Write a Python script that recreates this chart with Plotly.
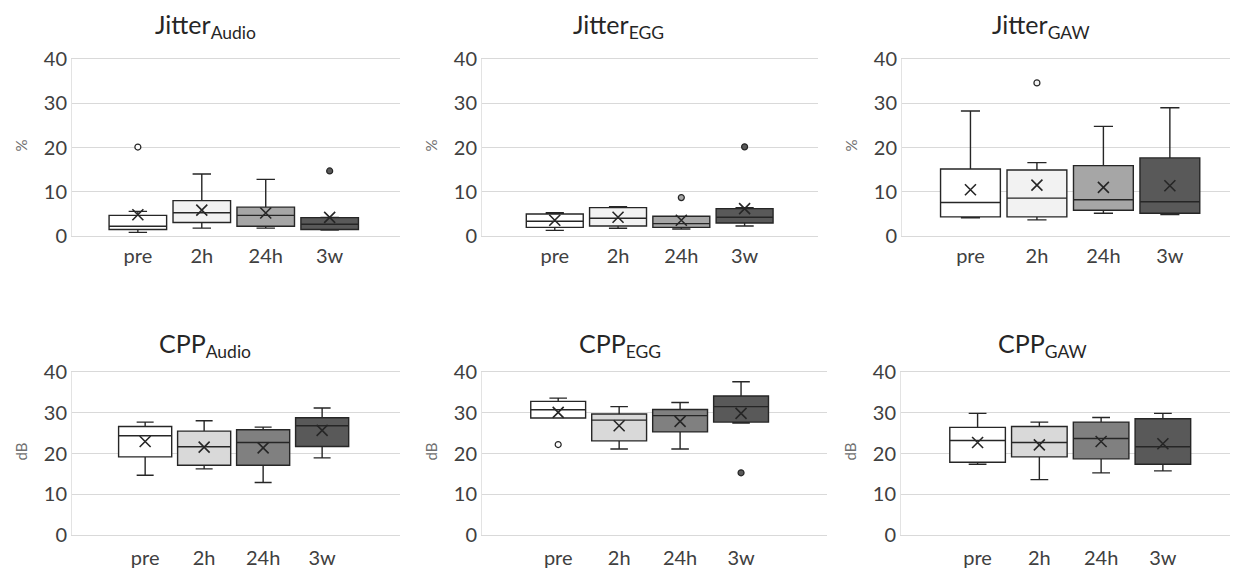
import plotly.graph_objects as go

# The page places the plot 8px from the top-left corner (body margin),
# so the figure is sized to fit the 1238x568 window from that offset.
OX, OY = 8, 8
W, H = 1238 - OX, 568 - OY
categories = ["pre", "2h", "24h", "3w"]

# ---- Jitter Audio (%) ----
ja_low = [0.81, 1.78, 1.78, 1.33]
ja_q1 = [1.48, 3.04, 2.22, 1.48]
ja_med = [2.22, 5.26, 4.67, 2.67]
ja_q3 = [4.67, 8.0, 6.52, 4.15]
ja_high = [5.56, 14.0, 12.8, 4.2]
ja_mean = [4.8, 5.85, 5.19, 4.2]
ja_out = [[20.1], [], [], [14.7]]

# ---- Jitter EGG (%) ----
je_low = [1.28, 1.74, 1.58, 2.26]
je_q1 = [1.96, 2.26, 1.96, 2.94]
je_med = [3.32, 4.0, 2.8, 4.23]
je_q3 = [4.98, 6.42, 4.45, 6.19]
je_high = [5.28, 6.64, 4.5, 6.42]
je_mean = [3.55, 4.23, 3.55, 6.19]
je_out = [[], [], [8.68], [20.15]]

# ---- Jitter GAW (%) ----
jg_low = [4.09, 3.64, 5.15, 4.85]
jg_q1 = [4.32, 4.32, 5.83, 5.15]
jg_med = [7.58, 8.56, 8.18, 7.73]
jg_q3 = [15.15, 14.92, 15.9, 17.65]
jg_high = [28.26, 16.59, 24.77, 29.0]
jg_mean = [10.45, 11.5, 10.98, 11.36]
jg_out = [[], [34.6], [], []]

# ---- CPP Audio (dB) ----
ca_low = [14.67, 16.23, 12.87, 18.93]
ca_q1 = [19.18, 17.13, 17.13, 21.72]
ca_med = [24.34, 21.64, 22.7, 26.8]
ca_q3 = [26.64, 25.49, 25.82, 28.77]
ca_high = [27.7, 28.03, 26.48, 31.15]
ca_mean = [22.95, 21.56, 21.39, 25.66]
ca_out = [[], [], [], []]

# ---- CPP EGG (dB) ----
ce_low = [28.7, 21.1, 21.1, 27.5]
ce_q1 = [28.7, 23.1, 25.3, 27.7]
ce_med = [30.74, 28.2, 29.3, 31.5]
ce_q3 = [32.79, 29.7, 30.8, 34.1]
ce_high = [33.6, 31.5, 32.5, 37.6]
ce_mean = [30.1, 26.8, 27.9, 29.85]
ce_out = [[22.2], [], [], [15.26]]

# ---- CPP GAW (dB) ----
cg_low = [17.38, 13.6, 15.25, 15.74]
cg_q1 = [17.87, 19.18, 18.69, 17.38]
cg_med = [23.2, 22.7, 23.69, 21.64]
cg_q3 = [26.4, 26.64, 27.7, 28.52]
cg_high = [29.84, 27.7, 28.85, 29.84]
cg_mean = [22.7, 22.13, 22.95, 22.38]
cg_out = [[], [], [], []]

jitter_colors = ["#FFFFFF", "#F2F2F2", "#A6A6A6", "#595959"]
cpp_colors = ["#FFFFFF", "#D9D9D9", "#808080", "#595959"]

y_ticks = [0, 10, 20, 30, 40]

FONT = "Lato"
EDGE = "#262626"
GRID = "#D9D9D9"


def px_x(v):
    return (v - OX) / W


def px_y(v):
    return 1 - (v - OY) / H


panels = [
    dict(main="Jitter", sub="Audio", unit="%", stats=(ja_low, ja_q1, ja_med, ja_q3, ja_high, ja_mean, ja_out),
         colors=jitter_colors, xpx=(72, 400), ypx=(59, 236), xr=(-1.03, 4.1), tpos=(205, 26), stand=2),
    dict(main="Jitter", sub="EGG", unit="%", stats=(je_low, je_q1, je_med, je_q3, je_high, je_mean, je_out),
         colors=jitter_colors, xpx=(482, 818), ypx=(59, 236), xr=(-1.15, 4.16), tpos=(618, 26), stand=2),
    dict(main="Jitter", sub="GAW", unit="%", stats=(jg_low, jg_q1, jg_med, jg_q3, jg_high, jg_mean, jg_out),
         colors=jitter_colors, xpx=(902, 1237), ypx=(59, 236), xr=(-1.03, 4.01), tpos=(1041, 26), stand=2),
    dict(main="CPP", sub="Audio", unit="dB", stats=(ca_low, ca_q1, ca_med, ca_q3, ca_high, ca_mean, ca_out),
         colors=cpp_colors, xpx=(72, 400), ypx=(372, 535), xr=(-1.24, 4.32), tpos=(205, 345), stand=5),
    dict(main="CPP", sub="EGG", unit="dB", stats=(ce_low, ce_q1, ce_med, ce_q3, ce_high, ce_mean, ce_out),
         colors=cpp_colors, xpx=(482, 827), ypx=(372, 535), xr=(-1.25, 4.41), tpos=(620, 345), stand=5),
    dict(main="CPP", sub="GAW", unit="dB", stats=(cg_low, cg_q1, cg_med, cg_q3, cg_high, cg_mean, cg_out),
         colors=cpp_colors, xpx=(901, 1237), ypx=(372, 535), xr=(-1.24, 4.2), tpos=(1042, 345), stand=5),
]

fig = go.Figure()
layout = dict(
    width=W, height=H, autosize=False,
    margin=dict(l=0, r=0, t=0, b=0, autoexpand=False),
    paper_bgcolor="white", plot_bgcolor="white",
    showlegend=False, boxmode="overlay",
    font=dict(family=FONT, color="#404040"),
)
annotations = []

for k, p in enumerate(panels):
    n = k + 1
    xa = "x" if n == 1 else f"x{n}"
    ya = "y" if n == 1 else f"y{n}"
    low, q1, med, q3, high, mean, outs = p["stats"]
    for i, cat in enumerate(categories):
        fig.add_trace(go.Box(
            x=[i], q1=[q1[i]], median=[med[i]], q3=[q3[i]],
            lowerfence=[low[i]], upperfence=[high[i]],
            width=0.9, whiskerwidth=0.32,
            fillcolor=p["colors"][i],
            line=dict(color=EDGE, width=1.4),
            boxpoints=False, hoverinfo="skip",
            xaxis=xa, yaxis=ya, name=cat,
        ))
        if outs[i]:
            fig.add_trace(go.Scatter(
                x=[i] * len(outs[i]), y=outs[i], mode="markers",
                marker=dict(symbol="circle", size=6, color=p["colors"][i],
                            line=dict(color=EDGE, width=1.2)),
                xaxis=xa, yaxis=ya, hoverinfo="skip",
            ))
    fig.add_trace(go.Scatter(
        x=list(range(len(categories))), y=mean, mode="markers",
        marker=dict(symbol="x-thin", size=11, color=EDGE,
                    line=dict(color=EDGE, width=1.6)),
        xaxis=xa, yaxis=ya, hoverinfo="skip",
    ))

    x0, x1 = p["xpx"]
    y0, y1 = p["ypx"]
    xkey = "xaxis" if n == 1 else f"xaxis{n}"
    ykey = "yaxis" if n == 1 else f"yaxis{n}"
    layout[xkey] = dict(
        domain=[px_x(x0), min(1.0, px_x(x1))], anchor=ya, range=list(p["xr"]),
        tickmode="array", tickvals=list(range(len(categories))), ticktext=categories,
        showgrid=False, zeroline=False, showline=True, mirror=True,
        linecolor=GRID, linewidth=1, ticks="", ticklabelstandoff=p["stand"],
        tickfont=dict(family=FONT, size=20, color="#404040"),
        fixedrange=True, automargin=False,
    )
    layout[ykey] = dict(
        domain=[px_y(y1), px_y(y0)], anchor=xa, range=[0, 40],
        tickmode="array", tickvals=y_ticks,
        showgrid=True, gridcolor=GRID, gridwidth=1,
        zeroline=False, showline=True, linecolor="#E3E3E3", linewidth=1,
        ticks="", tickfont=dict(family=FONT, size=20, color="#404040"),
        fixedrange=True, automargin=False,
    )
    tx, ty = p["tpos"]
    annotations.append(dict(
        text=f"{p['main']}<sub>{p['sub']}</sub>", x=px_x(tx), y=px_y(ty),
        xref="paper", yref="paper", showarrow=False, xanchor="center", yanchor="middle",
        font=dict(family=FONT, size=25, color="#262626"),
    ))
    annotations.append(dict(
        text=p["unit"], x=px_x(20 + x0 - 72), y=px_y((y0 + y1) / 2 - 2),
        xref="paper", yref="paper", showarrow=False, textangle=-90,
        xanchor="center", yanchor="middle",
        font=dict(family=FONT, size=15, color="#707070"),
    ))

layout["annotations"] = annotations
fig.update_layout(**layout)
fig.write_html("out.html")
